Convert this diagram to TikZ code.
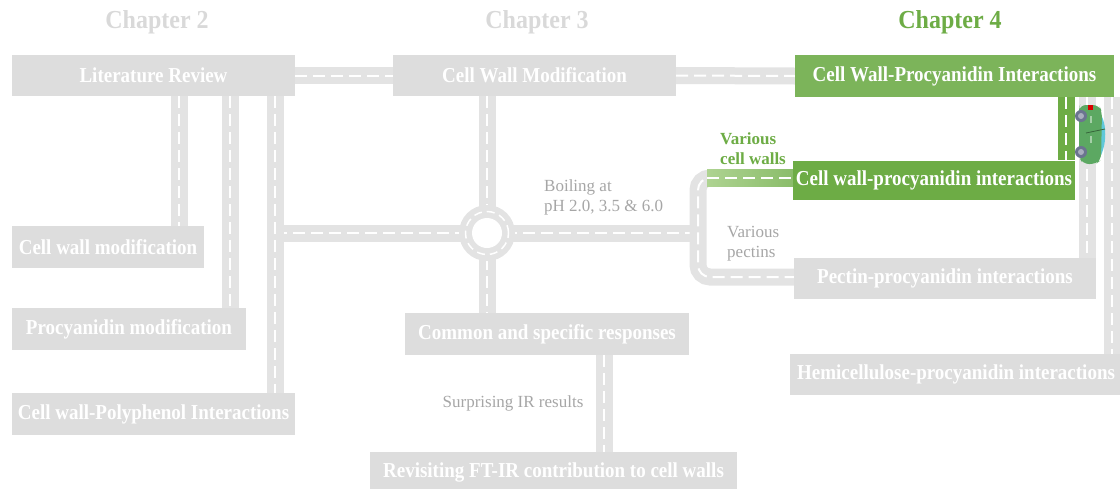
\documentclass[tikz,border=0pt]{standalone}
\usepackage{fontspec}
\setmainfont{Liberation Serif}
\usetikzlibrary{calc}
\definecolor{boxgray}{HTML}{DDDDDD}
\definecolor{roadgray}{HTML}{E3E3E3}
\definecolor{headgray}{HTML}{D9D9D9}
\definecolor{labelgray}{HTML}{A6A6A6}
\definecolor{greenA}{HTML}{7CB45A}
\definecolor{greenB}{HTML}{6DAC45}
\definecolor{greenL}{HTML}{AED391}
\definecolor{carbody}{HTML}{5CA862}
\definecolor{carglass}{HTML}{5FC8DA}
\definecolor{wheel}{HTML}{6B7490}
\definecolor{wheelhub}{HTML}{A9AEBF}
\newcommand\bxfont{\fontsize{19}{22}\selectfont\bfseries}
\newcommand\hdfont{\fontsize{24}{28}\selectfont\bfseries}
\newcommand\lbfont{\fontsize{17}{20}\selectfont}
% box titles are set slightly taller than their natural shape
\newcommand\bx[1]{\raisebox{-1.5pt}{\scalebox{1}[1.12]{#1}}}
\pgfdeclarelayer{bg}
\pgfsetlayers{bg,main}
\tikzset{
  gbox/.style={fill=boxgray, text=white, font=\bxfont, inner sep=0pt, align=center},
  grbox/.style={gbox, fill=#1},
  heading/.style={font=\hdfont, text=headgray, inner sep=0pt},
  note/.style={font=\lbfont, text=labelgray, inner sep=0pt, align=left},
  road/.style={draw=roadgray, line width=17pt,
    postaction={draw=white, line width=2pt, dash pattern=on 12pt off 6pt}},
  greenroad/.style={road, draw=greenB},
}
\begin{document}
\begin{tikzpicture}[x=1pt, y=-1pt]
\useasboundingbox (0,0) rectangle (1120,488);

% chapter headings
\node[heading] (h2) at (157,22.5) {\scalebox{1}[1.08]{Chapter 2}};
\node[heading] (h3) at (537,22.5) {\scalebox{1}[1.08]{Chapter 3}};
\node[heading, text=greenB] (h4) at (950,22.5) {\scalebox{1}[1.08]{Chapter 4}};

% chapter 2 boxes
\node[gbox, minimum width=283, minimum height=41] (lit) at (153.5,75.5) {\bx{Literature Review}};
\node[gbox, minimum width=192, minimum height=42] (cwm2) at (108,247) {\bx{Cell wall modification}};
\node[gbox, minimum width=234, minimum height=42] (procmod) at (129,329) {\bx{Procyanidin modification}};
\node[gbox, minimum width=283, minimum height=42] (polyph) at (153.5,414) {\bx{Cell wall-Polyphenol Interactions}};

% chapter 3 boxes
\node[gbox, minimum width=283, minimum height=41] (cwmod) at (534.5,75.5) {\bx{Cell Wall Modification}};
\node[gbox, minimum width=284, minimum height=42] (common) at (547,334) {\bx{Common and specific responses}};
\node[gbox, minimum width=367, minimum height=40] (revis) at (553.5,472) {\bx{Revisiting FT-IR contribution to cell walls}};

% chapter 4 boxes
\node[grbox=greenA, minimum width=319, minimum height=42] (cwpi) at (954.5,76) {\bx{Cell Wall-Procyanidin Interactions}};
\node[grbox=greenB, minimum width=282, minimum height=39] (cwpi2) at (934,180) {\bx{Cell wall-procyanidin interactions}};
\node[gbox, minimum width=302, minimum height=41] (pect) at (945,278.5) {\bx{Pectin-procyanidin interactions}};
\node[gbox, minimum width=332, minimum height=41] (hemi) at (956,374.5) {\bx{Hemicellulose-procyanidin interactions}};

% labels beside the roads
\node[note, anchor=west] (boil) at (544,197) {Boiling at\\pH 2.0, 3.5 \& 6.0};
\node[note, anchor=west] (vpec) at (727,244) {Various\\pectins};
\node[note, anchor=west, text=greenB, font=\lbfont\bfseries] (vcw) at (720,149) {Various\\cell walls};
\node[note] (surp) at (513,403) {Surprising IR results};

% road axes
\coordinate (v1) at (179,0);
\coordinate (v2) at (230,0);
\coordinate (v3) at (275,0);
\coordinate (rb) at (487,233);
\coordinate (v4) at (604,0);
\coordinate (v5) at (1066,0);
\coordinate (v6) at (1087,0);
\coordinate (v7) at (1112,0);
\coordinate (lp1) at (698,178);
\coordinate (lp2) at (698,277);

\begin{pgfonlayer}{bg}
  % chapter 2 network
  \draw[road] (v3 |- rb) -- (rb);
  \draw[road] (lit.south -| v1) -- (cwm2.north -| v1);
  \draw[road] (lit.south -| v2) -- (procmod.north -| v2);
  \draw[road] (lit.south -| v3) -- (polyph.north -| v3);
  \draw[road] (lit.east) -- (cwmod.west);
  % chapter 3 network
  \draw[road] (cwmod.south -| rb) -- (common.north -| rb);
  \draw[road] (rb) -- (lp1 |- rb);
  \draw[road] (common.south -| v4) -- (revis.north -| v4);
  \draw[road] (cwmod.east) -- (cwpi.west);
  % loop towards the chapter 4 boxes
  \draw[road, rounded corners=12pt] (lp1 -| cwpi2.west) -- (lp1) -- (lp2) -- (lp2 -| pect.west);
  \shade[left color=greenL, right color=greenB!80!white] (707,169.5) rectangle (cwpi2.west |- 0,186.5);
  \draw[white, line width=2pt, dash pattern=on 12pt off 6pt] (707,178) -- (lp1 -| cwpi2.west);
  % roundabout
  \fill[roadgray] (rb) circle (28pt);
  \draw[white, line width=1.5pt, dash pattern=on 8pt off 5pt] (rb) circle (21.5pt);
  \fill[white] (rb) circle (15pt);
  % chapter 4 network
  \draw[greenroad] (cwpi.south -| v5) -- (cwpi2.north -| v5);
  \draw[road] (cwpi.south -| v6) -- (pect.north -| v6);
  \draw[road] (cwpi.south -| v7) -- (hemi.north -| v7);
\end{pgfonlayer}

% small car on the road
\fill[carglass] (1097,111) .. controls (1108,117) and (1108,150) .. (1097,161) -- cycle;
\fill[carbody, rounded corners=6pt] (1080,105) -- (1099,105) -- (1102,112) -- (1101,160) -- (1096,164) -- (1083,164) -- (1079,157) -- (1079,110) -- cycle;
\draw[carbody!60!black, line width=0.8pt] (1086,133) -- (1105,129);
\fill[white, opacity=0.45] (1090,116) rectangle (1092,123);
\fill[white, opacity=0.45] (1090,136) rectangle (1092,143);
\fill[red!85!black] (1088,105) rectangle (1093,110);
\foreach \wy in {116,152} {
  \fill[wheel] (1081,\wy) circle (6pt);
  \fill[wheelhub] (1081,\wy) circle (3pt);
}
\end{tikzpicture}
\end{document}
